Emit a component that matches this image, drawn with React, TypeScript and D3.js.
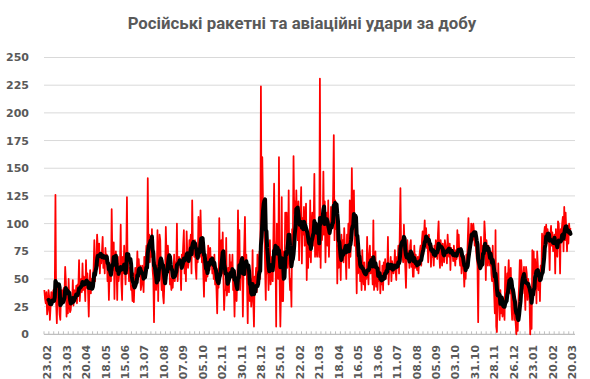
import React from 'react';
import * as d3 from 'd3';

const TITLE = 'Російські ракетні та авіаційні удари за добу';

const xTickLabels = [
  '23.02', '23.03', '20.04', '18.05', '15.06', '13.07', '10.08', '07.09', '05.10', '02.11',
  '30.11', '28.12', '25.01', '22.02', '21.03', '18.04', '16.05', '13.06', '11.07', '08.08',
  '05.09', '03.10', '31.10', '28.11', '26.12', '23.01', '20.02', '20.03',
];
const yTicks = [0, 25, 50, 75, 100, 125, 150, 175, 200, 225, 250];
const LABEL_EVERY = 28;
const MINOR_EVERY = 7;
const MA_PERIOD = 7;
const TOTAL_SLOTS = 765;

// daily strikes, block 1 (23.02 – 07.09)
const strikes1 = [
  40, 32, 28, 38, 18, 22, 40, 34, 13, 25, 38, 30, 35, 40, 30, 38, 126, 28, 10, 40, 45, 30, 18, 13, 35, 40, 28, 38,
  42, 35, 61, 48, 16, 38, 19, 50, 30, 20, 22, 31, 28, 49, 26, 40, 30, 35, 44, 28, 45, 42, 67, 30, 40, 50, 38, 64,
  40, 52, 45, 30, 67, 42, 55, 38, 16, 45, 58, 37, 50, 44, 52, 60, 85, 48, 65, 70, 90, 78, 62, 82, 55, 72, 64, 75,
  88, 60, 70, 55, 78, 66, 72, 48, 60, 31, 55, 62, 48, 113, 70, 58, 83, 32, 66, 75, 60, 31, 70, 48, 56, 62, 99, 45,
  31, 70, 55, 80, 62, 45, 72, 124, 55, 67, 48, 60, 50, 40, 44, 30, 55, 29, 48, 60, 55, 52, 75, 50, 68, 55, 62, 40,
  45, 62, 50, 38, 70, 55, 68, 80, 60, 141, 72, 90, 65, 85, 70, 95, 58, 50, 11, 65, 48, 40, 55, 94, 30, 70, 90, 85,
  55, 40, 62, 35, 28, 48, 55, 97, 72, 60, 80, 66, 70, 45, 50, 40, 58, 42, 56, 72, 48, 65, 55, 100, 48, 62, 70, 68,
];

// block 2 (07.09 – 21.03)
const strikes2 = [
  60, 40, 72, 65, 80, 94, 55, 70, 48, 93, 72, 60, 66, 85, 78, 90, 55, 121, 80, 75, 70, 85, 60, 50, 78, 65, 106, 90,
  70, 112, 85, 65, 80, 55, 34, 72, 60, 48, 66, 52, 80, 75, 58, 78, 62, 70, 55, 64, 50, 72, 45, 55, 40, 19, 50, 42,
  105, 60, 78, 85, 55, 92, 50, 22, 40, 40, 87, 35, 45, 60, 38, 72, 50, 65, 55, 72, 40, 48, 16, 52, 45, 30, 55, 112,
  48, 94, 40, 62, 55, 70, 16, 58, 80, 106, 60, 72, 45, 10, 62, 40, 30, 50, 25, 35, 76, 30, 7, 52, 45, 60, 38, 72,
  45, 60, 75, 50, 224, 90, 160, 120, 105, 95, 60, 31, 80, 55, 70, 40, 62, 85, 45, 55, 70, 48, 90, 136, 85, 75, 7, 100,
  55, 50, 160, 45, 7, 40, 124, 30, 30, 75, 55, 110, 95, 110, 60, 70, 130, 55, 40, 50, 25, 95, 80, 161, 110, 120, 95, 130,
  100, 85, 120, 67, 95, 110, 133, 64, 105, 90, 115, 80, 100, 118, 49, 90, 60, 85, 70, 121, 65, 95, 110, 80, 100, 145, 70, 100,
];

// block 3 (21.03 – 03.10)
const strikes3 = [
  75, 70, 90, 100, 70, 231, 60, 100, 85, 95, 147, 90, 120, 65, 100, 110, 80, 121, 70, 95, 95, 115, 100, 105, 125, 180, 85, 121,
  95, 110, 46, 80, 60, 70, 75, 49, 90, 72, 85, 65, 96, 80, 70, 50, 90, 75, 100, 60, 121, 70, 85, 150, 95, 110, 130, 80,
  100, 75, 37, 90, 55, 60, 75, 48, 62, 40, 76, 55, 45, 65, 40, 58, 50, 88, 60, 45, 72, 80, 55, 70, 62, 45, 103, 40,
  55, 75, 43, 60, 40, 55, 48, 66, 37, 50, 45, 62, 40, 65, 55, 68, 50, 62, 55, 88, 45, 62, 58, 70, 48, 66, 60, 55,
  60, 76, 58, 49, 70, 62, 80, 55, 90, 132, 75, 85, 70, 65, 99, 80, 60, 42, 70, 85, 68, 75, 60, 80, 85, 61, 72, 52,
  52, 80, 60, 72, 62, 58, 70, 55, 68, 75, 80, 62, 85, 93, 72, 90, 103, 80, 96, 78, 85, 65, 90, 75, 82, 61, 80, 70,
  75, 62, 80, 70, 85, 78, 68, 90, 102, 72, 60, 85, 75, 62, 82, 70, 65, 85, 80, 75, 64, 90, 78, 70, 82, 58, 78, 72,
];

// block 4 (03.10 – 22.03)
const strikes4 = [
  75, 66, 80, 70, 62, 76, 68, 94, 75, 90, 70, 62, 78, 55, 65, 72, 60, 43, 60, 50, 72, 65, 85, 105, 75, 90, 80, 100,
  97, 85, 100, 93, 80, 90, 75, 68, 62, 11, 72, 60, 70, 88, 75, 65, 80, 72, 102, 90, 49, 85, 75, 62, 80, 70, 62, 75,
  55, 48, 80, 50, 37, 19, 94, 7, 2, 37, 64, 30, 13, 40, 19, 30, 16, 31, 25, 13, 61, 28, 37, 55, 49, 67, 45, 37,
  60, 25, 13, 37, 40, 13, 20, 10, 0, 15, 3, 30, 45, 67, 45, 67, 55, 37, 49, 61, 40, 22, 61, 55, 31, 50, 43, 30,
  0, 40, 5, 76, 55, 75, 40, 68, 58, 28, 75, 62, 40, 49, 30, 62, 50, 91, 70, 85, 91, 97, 85, 99, 82, 95, 88, 85,
  58, 90, 98, 80, 92, 75, 85, 90, 55, 95, 80, 70, 102, 100, 85, 55, 95, 90, 100, 106, 75, 115, 85, 110, 92, 75, 98, 82,
  100, 92, 96,
];

const strikes: number[] = [...strikes1, ...strikes2, ...strikes3, ...strikes4];

const TEXT = '#595959';
const AXIS_FONT = '"DejaVu Sans", Verdana, sans-serif';

export default function App() {
  const W = 590;
  const H = 379;
  const x = d3.scaleLinear().domain([-0.5, TOTAL_SLOTS - 0.5]).range([44, 575]);
  const y = d3.scaleLinear().domain([0, 250]).range([334.3, 57.5]);

  const movingAvg: (number | null)[] = strikes.map((_, i) =>
    i < MA_PERIOD - 1 ? null : (d3.mean(strikes.slice(i - MA_PERIOD + 1, i + 1)) as number)
  );

  const redLine = d3
    .line<number>()
    .x((_, i) => x(i))
    .y((d) => y(d));
  const blackLine = d3
    .line<number | null>()
    .defined((d) => d != null)
    .x((_, i) => x(i))
    .y((d) => y(d as number));

  const minorTicks = d3.range(-0.5, TOTAL_SLOTS - 0.5 + 0.001, MINOR_EVERY);

  return (
    <svg
      width={W}
      height={H}
      viewBox={`0 0 ${W} ${H}`}
      style={{ position: 'absolute', left: 0, top: 0, background: '#fff' }}
    >
      <rect x={0} y={0} width={W} height={H} fill="#fff" />
      <text
        x={302}
        y={29}
        textAnchor="middle"
        fontFamily='Roboto, "Open Sans", sans-serif'
        fontWeight="bold"
        fontSize={16.8}
        fill={TEXT}
      >
        {TITLE}
      </text>

      {yTicks.slice(1).map((t) => (
        <line key={'g' + t} x1={44} x2={575} y1={y(t)} y2={y(t)} stroke="#D9D9D9" strokeWidth={1} />
      ))}
      {yTicks.map((t) => (
        <text
          key={'yl' + t}
          x={29}
          y={y(t)}
          dy="0.36em"
          textAnchor="end"
          fontFamily={AXIS_FONT}
          fontWeight="bold"
          fontSize={11}
          fill={TEXT}
        >
          {t}
        </text>
      ))}

      <line x1={44} x2={575} y1={y(0)} y2={y(0)} stroke="#BFBFBF" strokeWidth={1.2} />
      {minorTicks.map((t, k) => (
        <line
          key={'t' + k}
          x1={x(t)}
          x2={x(t)}
          y1={y(0)}
          y2={y(0) - 3}
          stroke="#BFBFBF"
          strokeWidth={1}
        />
      ))}

      {xTickLabels.map((lab, k) => {
        const px = x(k * LABEL_EVERY) + 3;
        return (
          <text
            key={'xl' + k}
            transform={`translate(${px},345) rotate(-90)`}
            textAnchor="end"
            dy="0.36em"
            fontFamily={AXIS_FONT}
            fontWeight="bold"
            fontSize={10.8}
            fill={TEXT}
          >
            {lab}
          </text>
        );
      })}

      <path d={redLine(strikes) || ''} fill="none" stroke="#FF0000" strokeWidth={1.75} strokeLinejoin="round" />
      <path
        d={blackLine(movingAvg) || ''}
        fill="none"
        stroke="#000"
        strokeWidth={4}
        strokeLinejoin="round"
        strokeLinecap="round"
      />
    </svg>
  );
}
